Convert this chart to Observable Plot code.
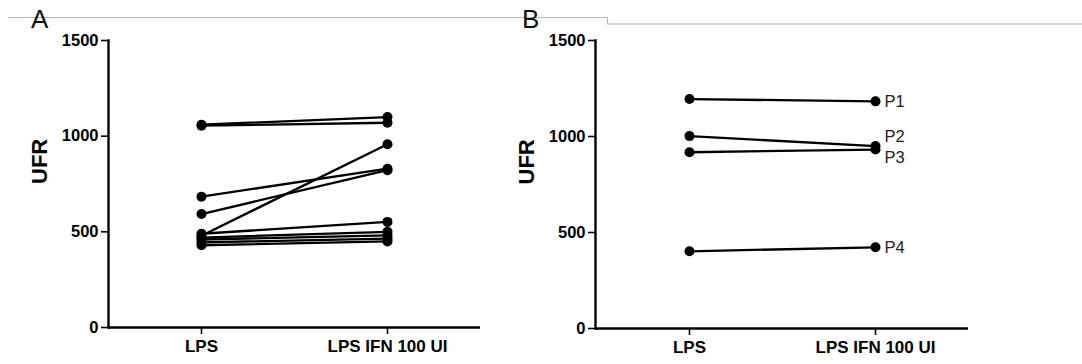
<!DOCTYPE html>
<html>
<head>
<meta charset="utf-8">
<script src="https://cdn.jsdelivr.net/npm/d3@7"></script>
<script src="https://cdn.jsdelivr.net/npm/@observablehq/plot@0.6"></script>
<style>
  html, body { margin: 0; padding: 0; background: #fff; }
  #wrap { position: relative; width: 1082px; height: 364px; overflow: hidden; }
  #wrap > div, #wrap > svg { position: absolute; top: 0; }
</style>
</head>
<body>
<div id="wrap"></div>
<script>
// ---- Data ----
const conditions = ["LPS", "LPS IFN 100 UI"];
const yTicks = [0, 500, 1000, 1500];

// Panel A: 10 paired samples
const panelA_LPS = [1060, 1055, 684, 593, 480, 490, 470, 460, 445, 430];
const panelA_IFN = [1100, 1070, 830, 822, 958, 552, 500, 482, 465, 450];

// Panel B: 4 patients
const panelB_patients = ["P1", "P2", "P3", "P4"];
const panelB_LPS = [1195, 1002, 918, 402];
const panelB_IFN = [1183, 950, 932, 423];

const panelLetters = ["A", "B"];
const yLabel = "UFR";

// ---- Build tidy tables ----
function pairs(lps, ifn, ids) {
  const rows = [];
  lps.forEach((v, i) => {
    const id = ids ? ids[i] : "S" + (i + 1);
    rows.push({id, cond: conditions[0], v});
    rows.push({id, cond: conditions[1], v: ifn[i]});
  });
  return rows;
}
const dataA = pairs(panelA_LPS, panelA_IFN);
const dataB = pairs(panelB_LPS, panelB_IFN, panelB_patients);
const labelsB = panelB_patients.map((p, i) => ({id: p, cond: conditions[1], v: panelB_IFN[i]}));

const style = {fontFamily: "'Liberation Sans', Arial, sans-serif", fontSize: "16px", fontWeight: "bold", color: "black", background: "white", overflow: "visible"};

function panel({data, width, marginLeft, marginRight, marginBottom, extra = []}) {
  return Plot.plot({
    width, height: 364,
    marginTop: 40, marginBottom, marginLeft, marginRight,
    style,
    x: {type: "point", domain: conditions, padding: 0.5},
    y: {domain: [0, 1500]},
    marks: [
      Plot.frame({anchor: "left", stroke: "black", strokeWidth: 2.4}),
      Plot.ruleY([0], {stroke: "black", strokeWidth: 2.6}),
      Plot.axisY({ticks: yTicks, tickSize: 7, tickPadding: 3, label: null, strokeWidth: 1.6, fontSize: 16.5, tickFormat: d => String(d)}),
      Plot.axisX({tickSize: 7, tickPadding: 5, label: null, strokeWidth: 1.6, fontSize: 17}),
      Plot.text([yLabel], {frameAnchor: "left", dx: -69, rotate: -90, fontSize: 22, fontWeight: "bold"}),
      Plot.line(data, {x: "cond", y: "v", z: "id", stroke: "black", strokeWidth: 2.3}),
      Plot.dot(data, {x: "cond", y: "v", fill: "black", r: 5}),
      ...extra
    ]
  });
}

const plotA = panel({data: dataA, width: 540, marginLeft: 108, marginRight: 60, marginBottom: 37});
const labelOpts = {x: "cond", y: "v", text: "id", dx: 9, textAnchor: "start", fontWeight: "normal", fontSize: 16.5, fill: "#222"};
const plotB = panel({
  data: dataB, width: 542, marginLeft: 55, marginRight: 114, marginBottom: 36,
  extra: [
    Plot.text(labelsB.filter(d => d.id === "P1" || d.id === "P4"), labelOpts),
    Plot.text(labelsB.filter(d => d.id === "P2"), {...labelOpts, dy: -9}),
    Plot.text(labelsB.filter(d => d.id === "P3"), {...labelOpts, dy: 8})
  ]
});

const wrap = document.getElementById("wrap");
const boxA = document.createElement("div"); boxA.style.left = "0px"; boxA.appendChild(plotA);
const boxB = document.createElement("div"); boxB.style.left = "540px"; boxB.appendChild(plotB);
wrap.appendChild(boxA);
wrap.appendChild(boxB);

// overlay: top gray rule and panel letters
const ov = d3.create("svg").attr("width", 1082).attr("height", 364).style("left", "0px").style("pointer-events", "none");
ov.append("path").attr("d", "M8,17.5H607.5V24H1082").attr("fill", "none").attr("stroke", "#b4b4b4").attr("stroke-width", 1.2);
ov.selectAll("text.letter").data(panelLetters).join("text")
  .attr("x", (d, i) => i === 0 ? 31 : 522)
  .attr("y", 28)
  .attr("font-family", "'Liberation Sans', Arial, sans-serif")
  .attr("font-size", 26)
  .attr("fill", "#111")
  .text(d => d);
wrap.appendChild(ov.node());
</script>
</body>
</html>
